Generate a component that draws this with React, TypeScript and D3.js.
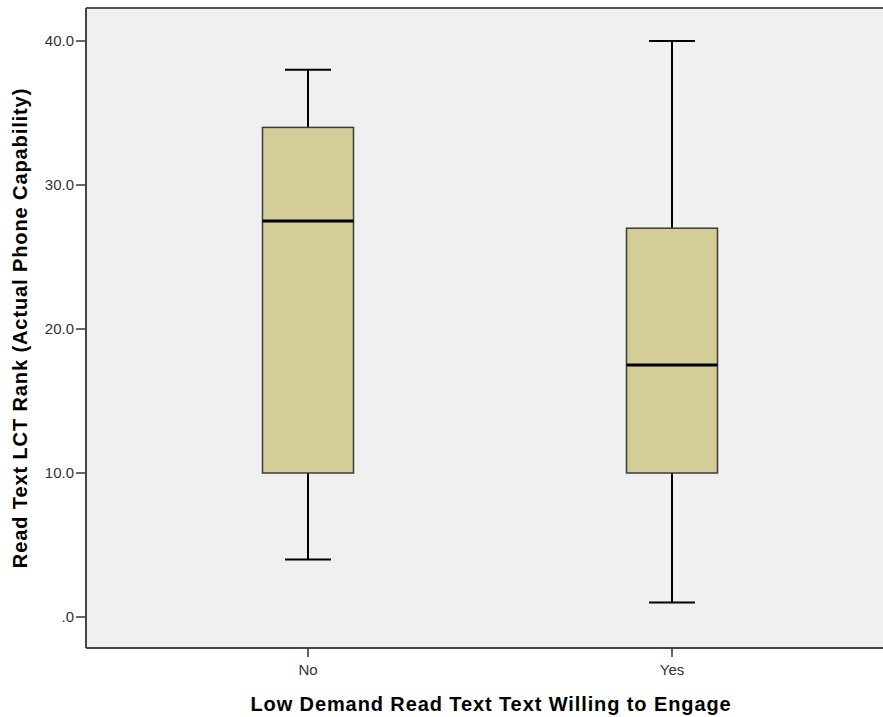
import React from "react";
import * as d3 from "d3";

const categories = ["No", "Yes"];
const whiskerLow = [4, 1];
const q1 = [10, 10];
const medians = [27.5, 17.5];
const q3 = [34, 27];
const whiskerHigh = [38, 40];
const yTicks = [0, 10, 20, 30, 40];
const yTickLabels = [".0", "10.0", "20.0", "30.0", "40.0"];

const W = 883;
const H = 717;
const left = 86;
const top = 8;
const right = 895;
const bottom = 648;

export default function App() {
  const y = d3.scaleLinear().domain([0, 40]).range([617, 41]);
  const x = d3.scalePoint<string>().domain(categories).range([308, 672]);
  const boxW = 91;
  const capW = 46;
  const font = "Arial, 'Liberation Sans', sans-serif";

  return (
    <svg width={W} height={H} style={{ position: "absolute", left: 0, top: 0 }}>
      <rect x={0} y={0} width={W} height={H} fill="#fff" />
      <rect x={left} y={top} width={right - left} height={bottom - top} fill="#f0f0f0" />
      {categories.map((c, i) => {
        const cx = x(c)!;
        return (
          <g key={c}>
            <line x1={cx} x2={cx} y1={y(whiskerHigh[i])} y2={y(q3[i])} stroke="#000" strokeWidth={2} />
            <line x1={cx} x2={cx} y1={y(q1[i])} y2={y(whiskerLow[i])} stroke="#000" strokeWidth={2} />
            <line x1={cx - capW / 2} x2={cx + capW / 2} y1={y(whiskerHigh[i])} y2={y(whiskerHigh[i])} stroke="#000" strokeWidth={2} />
            <line x1={cx - capW / 2} x2={cx + capW / 2} y1={y(whiskerLow[i])} y2={y(whiskerLow[i])} stroke="#000" strokeWidth={2} />
            <rect
              x={cx - boxW / 2}
              y={y(q3[i])}
              width={boxW}
              height={y(q1[i]) - y(q3[i])}
              fill="#d3ce97"
              stroke="#3c3c3c"
              strokeWidth={1.5}
            />
            <line x1={cx - boxW / 2} x2={cx + boxW / 2} y1={y(medians[i])} y2={y(medians[i])} stroke="#000" strokeWidth={3} />
          </g>
        );
      })}
      {/* axes */}
      <line x1={left} x2={right} y1={top} y2={top} stroke="#555" strokeWidth={2} />
      <line x1={left} x2={left} y1={top} y2={bottom} stroke="#444" strokeWidth={2} />
      <line x1={left} x2={right} y1={bottom} y2={bottom} stroke="#444" strokeWidth={2} />
      {yTicks.map((t, i) => (
        <g key={t}>
          <line x1={left - 10} x2={left} y1={y(t)} y2={y(t)} stroke="#333" strokeWidth={1.5} />
          <text x={left - 12} y={y(t)} dy="0.36em" textAnchor="end" fontFamily={font} fontSize={15} fill="#333">
            {yTickLabels[i]}
          </text>
        </g>
      ))}
      {categories.map((c) => (
        <g key={c}>
          <line x1={x(c)!} x2={x(c)!} y1={bottom} y2={bottom + 9} stroke="#333" strokeWidth={1.5} />
          <text x={x(c)!} y={bottom + 27} textAnchor="middle" fontFamily={font} fontSize={15} fill="#333">
            {c}
          </text>
        </g>
      ))}
      <text x={491} y={711} textAnchor="middle" fontFamily={font} fontSize={20} letterSpacing={0.9} fontWeight="bold" fill="#000">
        Low Demand Read Text Text Willing to Engage
      </text>
      <text
        transform={`translate(27, 328) rotate(-90)`}
        textAnchor="middle"
        fontFamily={font}
        fontSize={20}
        letterSpacing={0.9}
        fontWeight="bold"
        fill="#000"
      >
        Read Text LCT Rank (Actual Phone Capability)
      </text>
    </svg>
  );
}
